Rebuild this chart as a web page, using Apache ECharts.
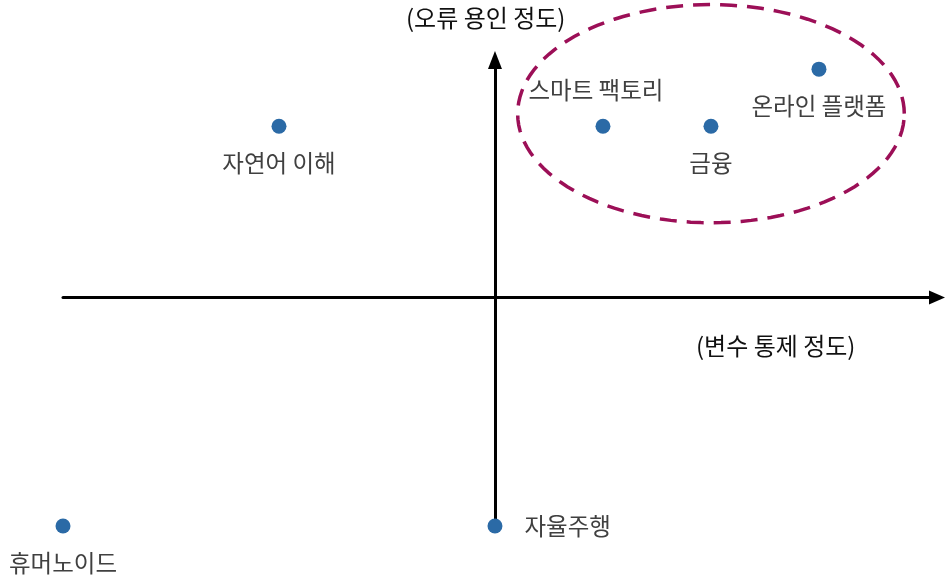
<!DOCTYPE html>
<html>
<head>
<meta charset="utf-8">
<script src="https://cdn.jsdelivr.net/npm/echarts@6/dist/echarts.min.js"></script>
<style>
  html, body { margin: 0; padding: 0; background: #fff; }
  #chart { width: 948px; height: 578px; }
</style>
</head>
<body>
<div id="chart"></div>
<script>
// 분야별 위치 (x: 변수 통제 정도, y: 오류 용인 정도)
const names = ['휴머노이드', '자율주행', '자연어 이해', '스마트 팩토리', '금융', '온라인 플랫폼'];
const xValues = [-4, 0, -2, 1, 2, 3];
const yValues = [-4, -4, 3, 3, 3, 4];
// 강조 타원: 중심 x, 중심 y, 반지름 x, 반지름 y
const highlight = [2.0, 3.22, 1.79, 1.91];
const xTitle = '(변수 통제 정도)';
const yTitle = '(오류 용인 정도)';

const font = '"Noto Sans CJK KR", "Noto Sans", sans-serif';
const labelPos = {
  '자율주행': { position: 'right', distance: 22 },
  '스마트 팩토리': { position: 'top', distance: 17, offset: [-7, 0] }
};

const myChart = echarts.init(document.getElementById('chart'));
const points = names.map(function (n, i) {
  const p = labelPos[n] || { position: 'bottom', distance: 18 };
  return { name: n, value: [xValues[i], yValues[i]], label: p };
});

const option = {
  animation: false,
  grid: { left: 63, right: 11, top: 60, bottom: 52 },
  xAxis: {
    type: 'value', min: -4, max: 4.093,
    axisLine: {
      onZero: true, symbol: ['none', 'triangle'], symbolSize: [14, 16],
      lineStyle: { color: '#000', width: 3 }
    },
    axisTick: { show: false }, axisLabel: { show: false }, splitLine: { show: false }
  },
  yAxis: {
    type: 'value', min: -4, max: 4.16,
    axisLine: {
      onZero: true, symbol: ['none', 'triangle'], symbolSize: [14, 18],
      lineStyle: { color: '#000', width: 3 }
    },
    axisTick: { show: false }, axisLabel: { show: false }, splitLine: { show: false }
  },
  graphic: [
    { type: 'text', left: 406, top: 6, style: { text: yTitle, font: '24px ' + font, fill: '#111' } },
    { type: 'text', left: 696, top: 334, style: { text: xTitle, font: '24px ' + font, fill: '#111' } }
  ],
  series: [
    {
      type: 'custom',
      silent: true,
      z: 1,
      data: [highlight],
      renderItem: function (params, api) {
        const cx = api.value(0), cy = api.value(1), rx = api.value(2), ry = api.value(3);
        const pts = [];
        for (let k = 0; k <= 120; k++) {
          const t = k / 120 * Math.PI * 2;
          pts.push(api.coord([cx + rx * Math.cos(t), cy + ry * Math.sin(t)]));
        }
        return {
          type: 'polyline',
          shape: { points: pts },
          style: { stroke: '#9c0f57', lineWidth: 3.5, lineDash: [17, 10], fill: null }
        };
      }
    },
    {
      type: 'scatter',
      z: 3,
      symbolSize: 15,
      itemStyle: { color: '#2b6aa6', opacity: 1 },
      label: {
        show: true,
        formatter: '{b}',
        fontSize: 23.5,
        fontFamily: font,
        color: '#404040'
      },
      data: points
    }
  ]
};

myChart.setOption(option);
window.addEventListener('resize', function () { myChart.resize(); });
</script>
</body>
</html>
